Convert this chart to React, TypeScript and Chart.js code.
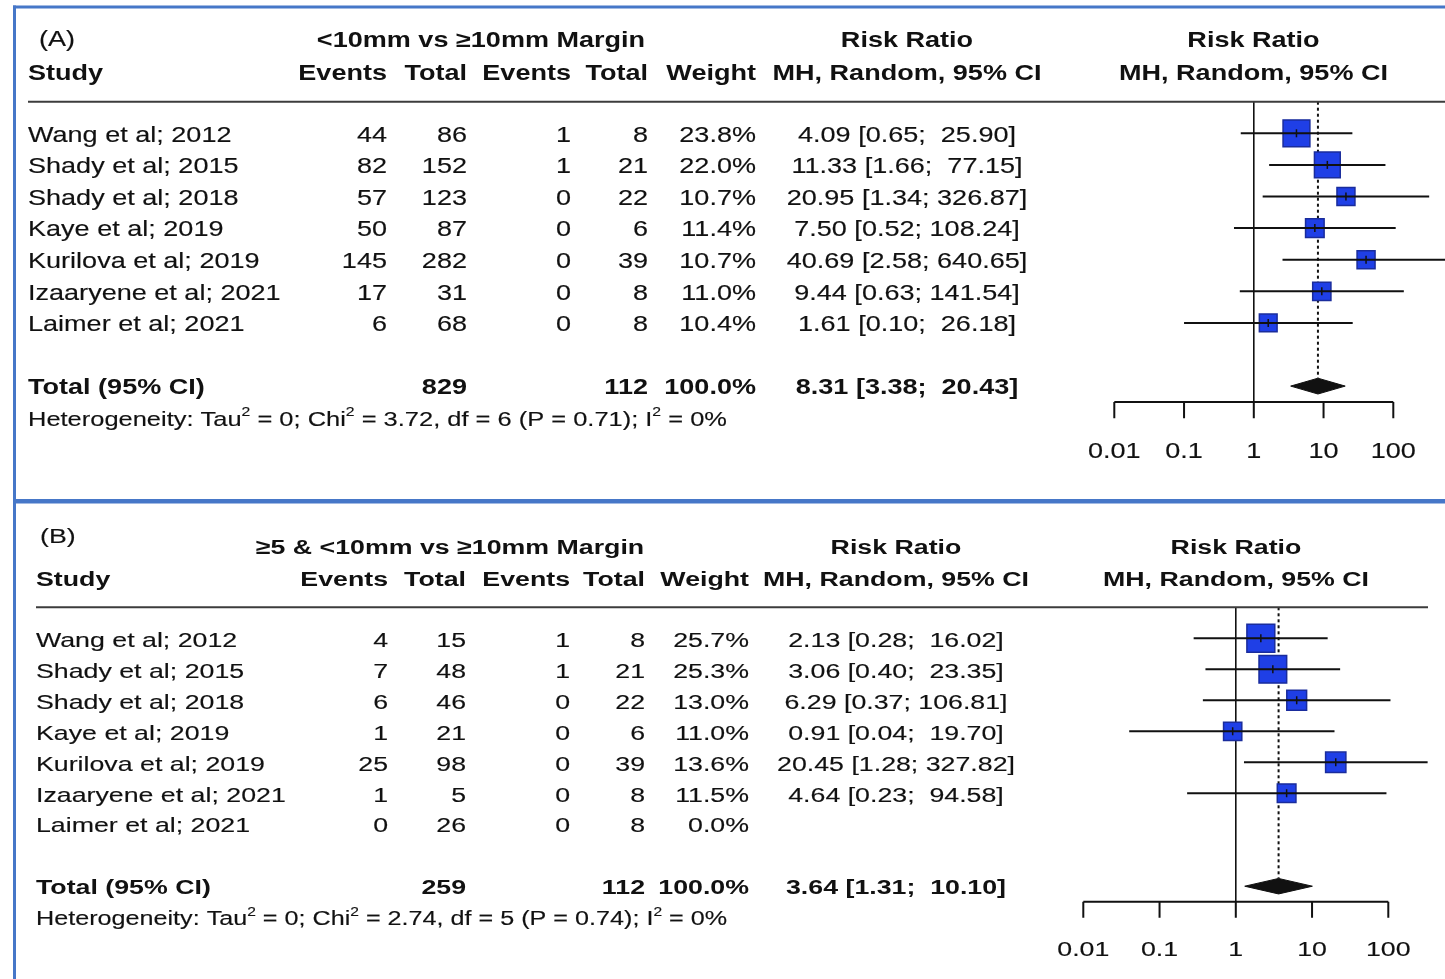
import React, { useEffect, useRef } from "react";
import { Chart, registerables } from "chart.js";

Chart.register(...registerables);

// ---------------- Data ----------------
const STUDIES = [
  "Wang et al; 2012",
  "Shady et al; 2015",
  "Shady et al; 2018",
  "Kaye et al; 2019",
  "Kurilova et al; 2019",
  "Izaaryene et al; 2021",
  "Laimer et al; 2021",
];

// Panel A: <10mm vs >=10mm margin
const A_EXP_EVENTS = [44, 82, 57, 50, 145, 17, 6];
const A_EXP_TOTAL = [86, 152, 123, 87, 282, 31, 68];
const A_CTRL_EVENTS = [1, 1, 0, 0, 0, 0, 0];
const A_CTRL_TOTAL = [8, 21, 22, 6, 39, 8, 8];
const A_WEIGHT = [23.8, 22.0, 10.7, 11.4, 10.7, 11.0, 10.4];
const A_RR: (number | null)[] = [4.09, 11.33, 20.95, 7.5, 40.69, 9.44, 1.61];
const A_LOWER: (number | null)[] = [0.65, 1.66, 1.34, 0.52, 2.58, 0.63, 0.1];
const A_UPPER: (number | null)[] = [25.9, 77.15, 326.87, 108.24, 640.65, 141.54, 26.18];
const A_TOTALS = [829, 112];
const A_SUMMARY = [8.31, 3.38, 20.43];
const A_HET = ["0", "3.72", "6", "0.71", "0%"];

// Panel B: >=5 & <10mm vs >=10mm margin
const B_EXP_EVENTS = [4, 7, 6, 1, 25, 1, 0];
const B_EXP_TOTAL = [15, 48, 46, 21, 98, 5, 26];
const B_CTRL_EVENTS = [1, 1, 0, 0, 0, 0, 0];
const B_CTRL_TOTAL = [8, 21, 22, 6, 39, 8, 8];
const B_WEIGHT = [25.7, 25.3, 13.0, 11.0, 13.6, 11.5, 0.0];
const B_RR: (number | null)[] = [2.13, 3.06, 6.29, 0.91, 20.45, 4.64, null];
const B_LOWER: (number | null)[] = [0.28, 0.4, 0.37, 0.04, 1.28, 0.23, null];
const B_UPPER: (number | null)[] = [16.02, 23.35, 106.81, 19.7, 327.82, 94.58, null];
const B_TOTALS = [259, 112];
const B_SUMMARY = [3.64, 1.31, 10.1];
const B_HET = ["0", "2.74", "5", "0.74", "0%"];

const AXIS_TICKS = [0.01, 0.1, 1, 10, 100];
const AXIS_LABELS = ["0.01", "0.1", "1", "10", "100"];
const COL_HEADERS = ["Events", "Total", "Events", "Total", "Weight"];

// ---------------- Styles ----------------
const FONT = '"Liberation Sans", Arial, Helvetica, sans-serif';
const INK = "#111111";
const SQ_FILL = "#1f3fe6";
const SQ_EDGE = "#1a2c9c";
const BORDER_BLUE = "#4677c8";
const RULE = "#3c3c3c";
const SQUARE_K = 5.5; // side = K * sqrt(weight)
const DIAMOND_H = 0.25; // rows
const HEADER_ROW = -1;
const AXIS_ROW = 8.5;
const TOTAL_ROW = 8;
const TEXT_DY = 2.5;
const TEXT_STROKE = 0.15;

type Panel = {
  label: string;
  group: string;
  exp: number[];
  expTot: number[];
  ctrl: number[];
  ctrlTot: number[];
  weight: number[];
  rr: (number | null)[];
  lo: (number | null)[];
  hi: (number | null)[];
  totals: number[];
  summary: number[];
  het: string[];
  canvasH: number;
  pad: { left: number; right: number; top: number; bottom: number };
  fs: number;
  sx: number;
  nameX: number;
  colX: number[];
  rrX: number;
  groupX: number;
  plotX: number;
  labelX: number;
  labelRow: number;
  groupRow: number;
  colRow: number;
  ruleX: [number, number];
  borders: { x: number; y: number; w: number; h: number }[];
};

const PANEL_A: Panel = {
  label: "(A)",
  group: "<10mm vs \u226510mm Margin",
  exp: A_EXP_EVENTS,
  expTot: A_EXP_TOTAL,
  ctrl: A_CTRL_EVENTS,
  ctrlTot: A_CTRL_TOTAL,
  weight: A_WEIGHT,
  rr: A_RR,
  lo: A_LOWER,
  hi: A_UPPER,
  totals: A_TOTALS,
  summary: A_SUMMARY,
  het: A_HET,
  canvasH: 497,
  pad: { left: 1114.3, right: 1445 - 1393.3, top: 101.7, bottom: 497 - 401.9 },
  fs: 21.3,
  sx: 1.27,
  nameX: 28,
  colX: [387, 467, 571, 648, 756],
  rrX: 907,
  groupX: 481,
  plotX: 1253.5,
  labelX: 39,
  labelRow: -3.04,
  groupRow: -3.0,
  colRow: -1.96,
  ruleX: [28, 1445],
  borders: [
    { x: 13, y: 5.5, w: 1440, h: 3 },
    { x: 13, y: 5.5, w: 3, h: 500 },
  ],
};

const PANEL_B: Panel = {
  label: "(B)",
  group: "\u22655 & <10mm vs \u226510mm Margin",
  exp: B_EXP_EVENTS,
  expTot: B_EXP_TOTAL,
  ctrl: B_CTRL_EVENTS,
  ctrlTot: B_CTRL_TOTAL,
  weight: B_WEIGHT,
  rr: B_RR,
  lo: B_LOWER,
  hi: B_UPPER,
  totals: B_TOTALS,
  summary: B_SUMMARY,
  het: B_HET,
  canvasH: 482,
  pad: { left: 1083.3, right: 1445 - 1388.3, top: 607.3 - 497, bottom: 482 - (901.7 - 497) },
  fs: 20.9,
  sx: 1.28,
  nameX: 36,
  colX: [388, 466, 570, 645, 749],
  rrX: 896,
  groupX: 450,
  plotX: 1236,
  labelX: 40,
  labelRow: -3.35,
  groupRow: -3.0,
  colRow: -1.96,
  ruleX: [36, 1428],
  borders: [
    { x: 13, y: 2, w: 1440, h: 4.5 },
    { x: 13, y: 0, w: 3, h: 482 },
  ],
};

function drawText(
  ctx: CanvasRenderingContext2D,
  s: string,
  x: number,
  y: number,
  align: CanvasTextAlign,
  bold: boolean,
  size: number,
  sx: number
) {
  ctx.save();
  ctx.font = `${bold ? "bold " : ""}${size}px ${FONT}`;
  ctx.fillStyle = INK;
  ctx.strokeStyle = INK;
  ctx.lineWidth = TEXT_STROKE;
  ctx.textAlign = align;
  ctx.textBaseline = "middle";
  ctx.translate(x, y + TEXT_DY);
  ctx.scale(sx, 1);
  ctx.fillText(s, 0, 0);
  if (!bold) ctx.strokeText(s, 0, 0);
  ctx.restore();
}

function drawRich(
  ctx: CanvasRenderingContext2D,
  parts: [string, boolean][],
  x: number,
  y: number,
  size: number,
  sx: number
) {
  let cx = x;
  for (const [s, sup] of parts) {
    const fs = sup ? size * 0.62 : size;
    ctx.save();
    ctx.font = `${fs}px ${FONT}`;
    const w = ctx.measureText(s).width * sx;
    ctx.fillStyle = INK;
    ctx.strokeStyle = INK;
    ctx.lineWidth = TEXT_STROKE;
    ctx.textAlign = "left";
    ctx.textBaseline = "middle";
    ctx.translate(cx, y + TEXT_DY + (sup ? -size * 0.36 : 0));
    ctx.scale(sx, 1);
    ctx.fillText(s, 0, 0);
    ctx.strokeText(s, 0, 0);
    ctx.restore();
    cx += w;
  }
}

const fmtCI = (rr: number, lo: number, hi: number) =>
  `${rr.toFixed(2)} [${lo.toFixed(2)}; ${hi.toFixed(2).padStart(6, " ")}]`;

function makePlugin(P: Panel) {
  return {
    id: "forestTable",
    beforeDraw(chart: any) {
      const ctx = chart.ctx as CanvasRenderingContext2D;
      ctx.save();
      ctx.fillStyle = "#ffffff";
      ctx.fillRect(0, 0, chart.width, chart.height);
      ctx.restore();
    },
    afterDraw(chart: any) {
      const ctx = chart.ctx as CanvasRenderingContext2D;
      const xs = chart.scales.x;
      const ys = chart.scales.y;
      const ry = (r: number) => ys.getPixelForValue(r);
      const fs = P.fs;
      const sx = P.sx;

      // header rule
      ctx.save();
      ctx.strokeStyle = RULE;
      ctx.lineWidth = 2;
      ctx.beginPath();
      ctx.moveTo(P.ruleX[0], ry(HEADER_ROW));
      ctx.lineTo(P.ruleX[1], ry(HEADER_ROW));
      ctx.stroke();

      // x axis
      const ay = ry(AXIS_ROW);
      ctx.strokeStyle = INK;
      ctx.lineWidth = 2;
      ctx.beginPath();
      ctx.moveTo(xs.getPixelForValue(AXIS_TICKS[0]), ay);
      ctx.lineTo(xs.getPixelForValue(AXIS_TICKS[AXIS_TICKS.length - 1]), ay);
      for (const t of AXIS_TICKS) {
        const px = xs.getPixelForValue(t);
        ctx.moveTo(px, ay);
        ctx.lineTo(px, ry(9.02));
      }
      ctx.stroke();
      ctx.restore();
      AXIS_TICKS.forEach((t, i) =>
        drawText(ctx, AXIS_LABELS[i], xs.getPixelForValue(t), ry(10.0), "center", false, fs, sx)
      );

      // headers
      drawText(ctx, P.label, P.labelX, ry(P.labelRow), "left", false, fs, sx);
      drawText(ctx, P.group, P.groupX, ry(P.groupRow), "center", true, fs, sx);
      drawText(ctx, "Risk Ratio", P.rrX, ry(P.groupRow), "center", true, fs, sx);
      drawText(ctx, "Risk Ratio", P.plotX, ry(P.groupRow), "center", true, fs, sx);
      drawText(ctx, "Study", P.nameX, ry(P.colRow), "left", true, fs, sx);
      COL_HEADERS.forEach((h, i) => drawText(ctx, h, P.colX[i], ry(P.colRow), "right", true, fs, sx));
      drawText(ctx, "MH, Random, 95% CI", P.rrX, ry(P.colRow), "center", true, fs, sx);
      drawText(ctx, "MH, Random, 95% CI", P.plotX, ry(P.colRow), "center", true, fs, sx);

      // study rows
      STUDIES.forEach((name, i) => {
        const y = ry(i);
        drawText(ctx, name, P.nameX, y, "left", false, fs, sx);
        const vals = [P.exp[i], P.expTot[i], P.ctrl[i], P.ctrlTot[i]];
        vals.forEach((v, j) => drawText(ctx, String(v), P.colX[j], y, "right", false, fs, sx));
        drawText(ctx, `${P.weight[i].toFixed(1)}%`, P.colX[4], y, "right", false, fs, sx);
        const rr = P.rr[i];
        const lo = P.lo[i];
        const hi = P.hi[i];
        if (rr != null && lo != null && hi != null) {
          drawText(ctx, fmtCI(rr, lo, hi), P.rrX, y, "center", false, fs, sx);
        }
      });

      // total row
      const ty = ry(8.0);
      drawText(ctx, "Total (95% CI)", P.nameX, ty, "left", true, fs, sx);
      drawText(ctx, String(P.totals[0]), P.colX[1], ty, "right", true, fs, sx);
      drawText(ctx, String(P.totals[1]), P.colX[3], ty, "right", true, fs, sx);
      const wsum = P.weight.reduce((a, b) => a + b, 0);
      drawText(ctx, `${Math.round(wsum).toFixed(1)}%`, P.colX[4], ty, "right", true, fs, sx);
      drawText(ctx, fmtCI(P.summary[0], P.summary[1], P.summary[2]), P.rrX, ty, "center", true, fs, sx);

      // heterogeneity
      const [tau2, chi2, df, p, i2] = P.het;
      drawRich(
        ctx,
        [
          ["Heterogeneity: Tau", false],
          ["2", true],
          [` = ${tau2}; Chi`, false],
          ["2", true],
          [` = ${chi2}, df = ${df} (P = ${p}); I`, false],
          ["2", true],
          [` = ${i2}`, false],
        ],
        P.nameX,
        ry(9.0),
        fs * 0.97,
        sx * 0.97
      );

      // blue panel borders
      ctx.save();
      ctx.fillStyle = BORDER_BLUE;
      for (const b of P.borders) ctx.fillRect(b.x, b.y, b.w, b.h);
      ctx.restore();
    },
  };
}

function buildConfig(P: Panel): any {
  const idx = P.rr.map((v, i) => (v == null ? -1 : i)).filter((i) => i >= 0);
  const pts = idx.map((i) => ({ x: P.rr[i] as number, y: i }));
  const datasets: any[] = [];

  // line of no effect
  datasets.push({
    data: [
      { x: 1, y: HEADER_ROW },
      { x: 1, y: AXIS_ROW },
    ],
    borderColor: INK,
    borderWidth: 1.6,
    pointRadius: 0,
    order: 5,
  });
  // summary dotted line
  datasets.push({
    data: [
      { x: P.summary[0], y: HEADER_ROW },
      { x: P.summary[0], y: TOTAL_ROW - DIAMOND_H },
    ],
    borderColor: INK,
    borderWidth: 2,
    borderDash: [3, 3],
    pointRadius: 0,
    order: 5,
  });
  // squares
  datasets.push({
    data: pts,
    showLine: false,
    pointStyle: "rect",
    pointRadius: idx.map((i) => (SQUARE_K * Math.sqrt(P.weight[i])) / Math.SQRT2),
    pointBackgroundColor: SQ_FILL,
    pointBorderColor: SQ_EDGE,
    pointBorderWidth: 1.5,
    order: 3,
  });
  // confidence intervals
  idx.forEach((i) => {
    datasets.push({
      data: [
        { x: P.lo[i] as number, y: i },
        { x: P.hi[i] as number, y: i },
      ],
      borderColor: INK,
      borderWidth: 2,
      pointRadius: 0,
      order: 2,
    });
  });
  // estimate ticks
  datasets.push({
    data: pts,
    showLine: false,
    pointStyle: "line",
    pointRotation: 90,
    pointRadius: 4,
    pointBorderColor: INK,
    pointBorderWidth: 1.5,
    order: 1,
  });
  // summary diamond
  const [est, lo, hi] = P.summary;
  datasets.push({
    data: [
      { x: lo, y: TOTAL_ROW },
      { x: est, y: TOTAL_ROW - DIAMOND_H },
      { x: hi, y: TOTAL_ROW },
      { x: est, y: TOTAL_ROW + DIAMOND_H },
      { x: lo, y: TOTAL_ROW },
    ],
    borderColor: INK,
    backgroundColor: INK,
    borderWidth: 1,
    fill: "shape",
    pointRadius: 0,
    order: 1,
  });

  datasets.forEach((d) => {
    d.clip = false;
    d.tension = 0;
  });

  return {
    type: "line",
    data: { datasets },
    options: {
      responsive: false,
      animation: false,
      devicePixelRatio: 1,
      events: [],
      layout: { autoPadding: false, padding: P.pad },
      plugins: {
        legend: { display: false },
        tooltip: { enabled: false },
        title: { display: false },
      },
      scales: {
        x: {
          type: "logarithmic",
          min: AXIS_TICKS[0],
          max: AXIS_TICKS[AXIS_TICKS.length - 1],
          display: false,
        },
        y: { type: "linear", min: HEADER_ROW, max: AXIS_ROW, reverse: true, display: false },
      },
    },
    plugins: [makePlugin(P)],
  };
}

export default function App() {
  const refA = useRef<HTMLCanvasElement>(null);
  const refB = useRef<HTMLCanvasElement>(null);

  useEffect(() => {
    document.body.style.margin = "0";
    const charts = [
      new Chart(refA.current as HTMLCanvasElement, buildConfig(PANEL_A)),
      new Chart(refB.current as HTMLCanvasElement, buildConfig(PANEL_B)),
    ];
    return () => charts.forEach((c) => c.destroy());
  }, []);

  return (
    <div style={{ position: "relative", width: 1445, height: 979, background: "#fff", overflow: "hidden" }}>
      <canvas
        ref={refA}
        width={1445}
        height={497}
        style={{ position: "absolute", left: 0, top: 0, width: 1445, height: 497 }}
      />
      <canvas
        ref={refB}
        width={1445}
        height={482}
        style={{ position: "absolute", left: 0, top: 497, width: 1445, height: 482 }}
      />
    </div>
  );
}
